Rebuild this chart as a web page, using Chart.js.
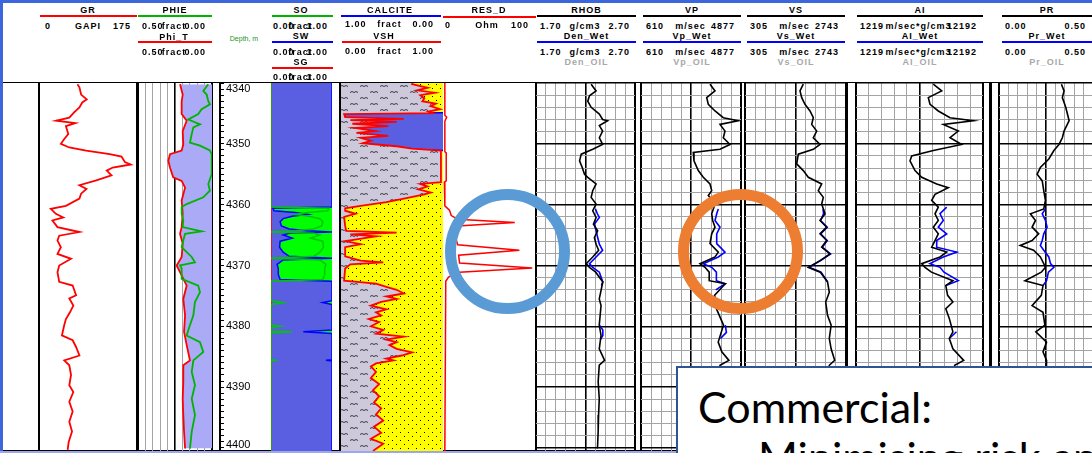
<!DOCTYPE html>
<html>
<head>
<meta charset="utf-8">
<script src="https://cdn.jsdelivr.net/npm/chart.js@4.4.1/dist/chart.umd.min.js"></script>
<style>
  html, body { margin: 0; padding: 0; background: #fff; }
  #page { position: relative; width: 1092px; height: 453px; overflow: hidden; background: #fff;
          font-family: "Liberation Sans", Arial, sans-serif; }
  #page canvas { position: absolute; display: block; }
  .h { position: absolute; font-weight: bold; font-size: 9px; letter-spacing: 1px; line-height: 10px;
       white-space: nowrap; color: #000; }
  .rule { position: absolute; height: 2px; }
  .line { position: absolute; background: #000; }
  .ring { position: absolute; box-sizing: border-box; border-radius: 50%; border-style: solid; border-width: 11px; }
  #note { position: absolute; left: 676px; top: 366px; width: 440px; height: 120px; box-sizing: border-box;
          background: #fff; border: 2px solid #2f5496; font-family: Lato, "Open Sans", sans-serif; color: #000; }
  #note div { position: absolute; white-space: nowrap; line-height: 1; font-size: 43px; }
</style>
</head>
<body>
<div id="page"></div>
<script>
// ---- depth window of the log display (metres) ----
const DEPTH_TOP = 4340;
const DEPTH_BASE = 4400.5;
const depthLabels = [4340, 4350, 4360, 4370, 4380, 4390, 4400];

// ---- curves: [depth m, value] ----
const grLog = [[4340.2,68.6],[4340.7,72.2],[4341.9,75.2],[4342.7,85.2],[4343.2,77.2],[4344.0,72.2],[4344.8,63.1],
  [4345.7,54.1],[4346.2,30.7],[4346.6,64.9],[4347.1,48.1],[4348.4,52.3],[4349.2,45.1],[4350.0,39.1],[4350.6,54.1],
  [4351.1,84.2],[4351.7,126.3],[4352.1,147.3],[4353.0,153.4],[4353.4,163.6],[4353.9,131.7],[4354.4,121.0],
  [4355.2,129.4],[4356.0,102.3],[4356.8,72.2],[4357.4,84.8],[4358.2,75.2],[4359.0,72.2],[4360.2,48.1],[4360.7,21.1],
  [4361.5,30.1],[4362.1,43.3],[4362.6,24.0],[4363.7,33.0],[4364.5,72.2],[4365.1,36.1],[4365.9,33.0],[4367.0,39.1],
  [4368.1,33.0],[4368.9,57.2],[4370.0,36.1],[4371.1,33.0],[4372.7,36.1],[4373.3,60.1],[4374.9,66.2],[4375.4,54.1],
  [4376.6,61.3],[4377.7,55.3],[4378.8,48.1],[4379.8,45.1],[4381.5,40.9],[4382.3,60.1],[4383.4,66.2],[4384.8,72.2],
  [4385.6,45.1],[4386.4,54.1],[4388.0,57.2],[4389.7,54.1],[4390.8,61.3],[4392.4,54.1],[4394.0,60.1],[4395.7,54.1],
  [4397.3,59.0],[4399.0,53.0],[4400.3,51.2]];

const phiTLog = [[4340.2,0.216],[4341.9,0.198],[4343.0,0.205],[4345.1,0.205],[4346.2,0.171],[4347.9,0.198],
  [4350.1,0.194],[4351.1,0.205],[4351.7,0.284],[4352.8,0.295],[4353.9,0.284],[4355.5,0.262],[4356.1,0.205],
  [4357.2,0.182],[4358.3,0.194],[4359.3,0.205],[4361.5,0.198],[4363.7,0.205],[4364.8,0.216],[4366.4,0.198],
  [4368.6,0.205],[4370.0,0.239],[4371.1,0.216],[4373.3,0.171],[4375.5,0.194],[4378.2,0.182],[4380.9,0.189],
  [4383.1,0.171],[4385.6,0.149],[4386.4,0.194],[4389.1,0.194],[4391.9,0.198],[4394.6,0.194],[4397.3,0.189],
  [4400.1,0.182]];

const phieLog = [[4340.2,0.025],[4341.3,0.059],[4341.9,0.036],[4343.0,0.025],[4343.5,0.014],[4344.3,0.070],
  [4345.1,0.093],[4346.0,0.160],[4346.8,0.081],[4347.3,0.126],[4348.4,0.137],[4349.8,0.149],[4350.3,0.081],
  [4351.1,0.014],[4351.7,0.002],[4355.0,0.002],[4356.6,0.025],[4357.7,0.014],[4358.8,0.059],[4359.9,0.171],
  [4360.4,0.205],[4361.5,0.205],[4362.6,0.194],[4363.7,0.198],[4364.4,0.070],[4364.8,0.182],[4365.9,0.194],
  [4367.0,0.205],[4368.6,0.137],[4369.5,0.115],[4370.0,0.216],[4370.5,0.205],[4372.2,0.205],[4373.3,0.093],
  [4374.4,0.081],[4376.0,0.115],[4378.2,0.126],[4379.8,0.149],[4381.5,0.171],[4382.6,0.081],[4384.2,0.059],
  [4385.6,0.126],[4387.5,0.137],[4389.7,0.115],[4391.9,0.137],[4394.6,0.115],[4397.3,0.137],[4400.1,0.149]];

const swLog = [[4339.5,1],[4360.4,1],[4360.6,0.03],[4361.0,0.05],[4361.3,0.4],[4361.6,0.6],[4361.9,0.35],
  [4362.3,0.2],[4362.8,0.15],[4363.5,0.17],[4364.0,0.3],[4364.3,0.6],[4364.5,1],[4364.7,0.3],[4365.0,0.2],
  [4365.5,0.35],[4366.0,0.15],[4367.0,0.14],[4367.8,0.2],[4368.5,0.3],[4368.8,1],[4369.1,0.2],[4369.8,0.1],
  [4370.5,0.12],[4371.5,0.12],[4372.3,0.15],[4372.6,1],[4375.8,1],[4376.1,0.85],[4376.4,1],[4380.6,1],
  [4380.9,0.53],[4381.2,1],[4385.5,1],[4385.6,0.9],[4385.7,1],[4400.5,1]];

const soLog = [[4339.5,0],[4360.4,0],[4360.6,0.95],[4361.0,0.93],[4361.3,0.6],[4361.6,0.4],[4361.9,0.62],
  [4362.3,0.8],[4362.8,0.85],[4363.5,0.83],[4364.0,0.7],[4364.3,0.4],[4364.5,0],[4364.7,0.7],[4365.0,0.8],
  [4365.5,0.65],[4366.0,0.85],[4367.0,0.86],[4367.8,0.8],[4368.5,0.7],[4368.8,0],[4369.1,0.8],[4369.8,0.9],
  [4370.5,0.88],[4371.5,0.88],[4372.3,0.85],[4372.6,0],[4375.8,0],[4376.1,0.2],[4376.4,0],[4379.8,0],
  [4380.0,0.15],[4380.2,0],[4380.8,0],[4380.9,0.34],[4381.1,0],[4385.5,0],[4385.6,0.1],[4385.7,0],[4400.5,0]];

const sgLog = [[4339.5,0],[4400.5,0]];

const vshLog = [[4339.5,0.72],[4340.2,0.70],[4340.8,0.85],[4341.2,0.75],[4341.6,0.92],[4342.0,0.78],[4342.5,0.82],
  [4343.0,0.80],[4343.4,0.93],[4343.8,0.88],[4344.3,0.97],[4344.7,0.86],[4344.95,0.9],[4345.1,0.04],[4345.6,0.05],
  [4345.9,0.62],[4346.1,0.1],[4346.4,0.55],[4346.7,0.12],[4347.1,0.47],[4347.4,0.15],[4347.9,0.34],[4348.2,0.16],
  [4348.7,0.47],[4349.0,0.2],[4349.5,0.3],[4349.9,0.22],[4350.4,0.55],[4350.8,0.7],[4351.1,0.98],[4356.3,0.98],
  [4356.6,0.78],[4357.0,0.85],[4357.5,0.76],[4358.0,0.88],[4358.3,0.82],[4359.0,0.62],[4359.6,0.45],[4360.2,0.2],
  [4360.6,0.05],[4361.0,0.05],[4361.5,0.15],[4362.0,0.04],[4363.5,0.05],[4364.3,0.06],[4364.6,0.55],[4364.9,0.1],
  [4365.2,0.35],[4366.0,0.05],[4366.5,0.2],[4367.0,0.05],[4368.5,0.05],[4369.2,0.2],[4369.5,0.42],[4369.8,0.1],
  [4370.5,0.05],[4372.5,0.04],[4373.0,0.35],[4373.5,0.45],[4374.0,0.55],[4374.6,0.62],[4375.1,0.45],[4375.5,0.55],
  [4376.0,0.4],[4376.6,0.3],[4377.2,0.45],[4377.7,0.35],[4378.2,0.4],[4378.8,0.28],[4379.3,0.38],[4380.0,0.3],
  [4380.6,0.42],[4381.2,0.35],[4381.7,0.62],[4382.2,0.45],[4382.6,0.55],[4383.1,0.48],[4383.7,0.55],[4384.3,0.7],
  [4384.8,0.6],[4385.3,0.45],[4385.6,0.52],[4386.1,0.35],[4386.6,0.3],[4387.5,0.35],[4388.5,0.3],[4389.5,0.38],
  [4390.5,0.32],[4391.5,0.38],[4392.5,0.33],[4393.5,0.4],[4394.5,0.35],[4395.5,0.42],[4396.5,0.33],[4397.5,0.4],
  [4398.5,0.3],[4399.3,0.42],[4400.5,0.32]];

const calciteLog = [[4344.9,0],[4345.0,0.96],[4346.2,0.94],[4346.6,0.88],[4347.0,0.85],[4348.5,0.83],
  [4350.0,0.79],[4350.5,0.7],[4350.8,0.45],[4351.1,0]];

const resLog = [[4339.5,2],[4345.3,2],[4345.6,4],[4346.3,2],[4351.3,2],[4351.5,3.5],[4356.1,3.5],[4356.3,1.5],
  [4360.2,2],[4360.9,7],[4361.8,9],[4362.4,16],[4362.95,78],[4363.5,16],[4364.6,12],[4366.6,16],[4367.5,83],
  [4368.3,17],[4369.6,18],[4370.4,97],[4371.1,18],[4371.9,6],[4372.6,3],[4400.5,2]];

const rhobLog = [[4340.2,2.257],[4341.3,2.307],[4342.1,2.24],[4343.0,2.223],[4344.0,2.257],[4345.1,2.34],
  [4346.0,2.373],[4346.2,2.423],[4347.0,2.34],[4347.9,2.373],[4349.0,2.34],[4350.1,2.373],[4350.9,2.273],
  [4351.7,2.157],[4352.8,2.14],[4353.9,2.167],[4355.0,2.19],[4355.5,2.223],[4356.6,2.307],[4357.7,2.273],
  [4358.8,2.257],[4359.9,2.307],[4361.0,2.273],[4362.1,2.307],[4363.2,2.28],[4364.3,2.323],[4365.4,2.29],
  [4366.5,2.307],[4367.5,2.333],[4368.6,2.273],[4369.7,2.207],[4370.3,2.24],[4371.1,2.303],[4372.7,2.375],
  [4375.5,2.339],[4376.6,2.357],[4379.8,2.339],[4381.5,2.357],[4383.7,2.339],[4385.6,2.393],[4386.4,2.339],
  [4389.1,2.328],[4391.9,2.339],[4394.6,2.332],[4397.3,2.328],[4400.1,2.321]];
const denWetLog = [[4360.7,2.30],[4361.5,2.32],[4362.1,2.34],[4363.2,2.29],[4364.3,2.307],[4365.4,2.323],
  [4366.5,2.34],[4367.5,2.373],[4368.6,2.307],[4369.7,2.24],[4370.3,2.273],[4371.1,2.34],[4372.7,2.375],
  [4373.3,2.36],[4375.0,null],[4379.8,2.339],[4380.6,2.375],[4381.5,2.375],[4382.2,2.35]];

const vpLog = [[4340.2,3554],[4341.3,3768],[4342.4,3413],[4343.5,3482],[4344.6,3768],[4345.7,4122],[4346.2,4762],
  [4346.8,3981],[4347.9,4194],[4349.0,4122],[4350.1,4408],[4350.9,3981],[4351.4,2842],[4352.8,2871],[4354.4,3055],
  [4355.5,3268],[4356.6,3554],[4357.7,3627],[4358.5,3482],[4359.9,3768],[4361.5,3627],[4362.6,3669],[4363.7,3768],
  [4364.8,3627],[4366.4,3554],[4367.8,3908],[4368.6,3768],[4369.7,3127],[4370.3,3341],[4371.1,3520],[4372.5,3520],
  [4373.0,4207],[4374.9,3751],[4377.1,3827],[4379.8,4130],[4382.6,3904],[4384.2,4058],[4385.6,4361],[4386.4,3981],
  [4388.0,3950]];
const vpWetLog = [[4360.7,3908],[4361.5,3840],[4362.6,3768],[4363.7,3981],[4364.8,3840],[4366.4,3840],
  [4367.8,4194],[4368.6,3908],[4369.7,3268],[4370.3,3627],[4371.1,3827],[4372.5,3827],[4373.0,4207],[4374.0,3800],
  [4376.0,null],[4379.8,4207],[4381.0,4254],[4382.0,4000]];

const vsLog = [[4340.2,1712],[4341.3,1633],[4342.4,1674],[4343.5,1753],[4344.6,1874],[4345.7,1954],[4346.8,1915],
  [4347.9,2036],[4349.0,1954],[4350.1,2116],[4350.9,1954],[4351.7,1592],[4353.3,1553],[4354.4,1712],[4355.5,1833],
  [4356.6,2156],[4357.7,2074],[4358.8,2195],[4359.9,2156],[4361.5,2236],[4362.6,2116],[4363.7,2277],[4364.8,2116],
  [4365.9,2277],[4367.0,2156],[4368.1,2357],[4369.2,2116],[4370.3,1833],[4371.1,2123],[4372.7,2297],[4374.4,2340],
  [4376.0,2253],[4378.2,2297],[4379.8,2384],[4382.0,2340],[4383.7,2384],[4385.6,2470],[4386.4,2340],[4388.0,2340]];
const vsWetLog = [[4360.7,2190],[4361.5,2200],[4362.6,2130],[4363.7,2290],[4364.8,2130],[4365.9,2290],
  [4367.0,2170],[4368.1,2370],[4369.2,2130],[4370.3,1850],[4371.1,2140],[4372.7,2300]];

const aiLog = [[4340.2,7898],[4341.3,8623],[4342.4,7466],[4343.5,7613],[4344.6,8330],[4345.7,9341],[4346.2,11354],
  [4346.8,8762],[4347.9,10058],[4349.0,9341],[4350.1,10351],[4351.1,7898],[4352.0,6031],[4352.8,5885],[4354.4,6317],
  [4355.5,6895],[4356.6,8191],[4357.2,9194],[4358.3,8044],[4359.3,7759],[4360.4,8330],[4361.5,8044],[4362.6,8330],
  [4363.7,7898],[4364.8,8330],[4365.9,8044],[4367.0,7759],[4367.8,9055],[4368.6,8477],[4369.7,6895],[4370.3,7180],
  [4371.1,7734],[4372.5,9591],[4373.3,8978],[4374.9,9134],[4376.0,9591],[4377.1,8978],[4378.7,9280],[4380.9,9591],
  [4382.0,9280],[4383.7,9591],[4385.6,10524],[4386.4,9747],[4388.0,9600]];
const aiWetLog = [[4360.4,9055],[4361.5,8477],[4362.6,8762],[4363.7,8330],[4364.8,9055],[4365.9,8191],
  [4367.0,8191],[4367.8,9919],[4368.6,8762],[4369.7,7613],[4370.3,8477],[4371.1,8822],[4372.5,10058],[4373.3,8978],
  [4376.0,null],[4380.9,9902],[4382.0,9280]];

const prLog = [[4340.2,0.332],[4341.3,0.346],[4342.4,0.337],[4344.0,0.355],[4345.1,0.364],[4346.2,0.373],
  [4347.9,0.346],[4349.0,0.337],[4350.1,0.319],[4351.1,0.292],[4352.5,0.265],[4353.9,0.220],[4355.0,0.203],
  [4356.1,0.230],[4357.7,0.238],[4359.3,0.247],[4360.7,0.238],[4361.5,0.167],[4362.6,0.194],[4363.7,0.176],
  [4364.8,0.211],[4365.9,0.176],[4366.7,0.113],[4367.5,0.184],[4368.6,0.220],[4369.7,0.238],[4370.3,0.247],
  [4371.1,0.225],[4372.5,0.138],[4373.3,0.234],[4374.9,0.225],[4376.6,0.176],[4377.7,0.234],[4379.8,0.244],
  [4380.9,0.196],[4382.6,0.253],[4384.2,0.234],[4385.6,0.253],[4386.4,0.253],[4388.0,0.25]];
const prWetLog = [[4360.7,0.247],[4361.5,0.230],[4362.6,0.247],[4363.7,0.256],[4364.8,0.238],[4365.9,0.230],
  [4366.7,0.220],[4367.5,0.238],[4368.6,0.265],[4369.7,0.274],[4370.3,0.292],[4371.1,0.263],[4372.5,0.253],
  [4373.3,0.234]];

// ---- helpers ----
const page = document.getElementById('page');
const pts = log => log.map(([d, v]) => ({x: v, y: d}));
const RED = '#ff0000', GREEN = '#00b400', BLUE = '#0000ff', WATER = '#5a5fe2', OIL = '#00ff00';

function box(cls, css, text) {
  const el = document.createElement('div');
  el.className = cls;
  el.style.cssText = css;
  if (text !== undefined) el.textContent = text;
  page.appendChild(el);
  return el;
}

function shalePattern() {
  const c = document.createElement('canvas');
  c.width = 20; c.height = 12;
  const g = c.getContext('2d');
  g.fillStyle = '#cdc9da'; g.fillRect(0, 0, 20, 12);
  g.strokeStyle = '#3a3a48'; g.lineWidth = 1;
  const wave = (x, y) => {
    g.beginPath(); g.moveTo(x, y + 1); g.lineTo(x + 2, y); g.lineTo(x + 4, y + 1); g.lineTo(x + 6, y); g.lineTo(x + 8, y + 1);
    g.stroke();
  };
  wave(1, 2.5); wave(11, 8.5);
  return g.createPattern(c, 'repeat');
}
function sandPattern() {
  const c = document.createElement('canvas');
  c.width = 8; c.height = 8;
  const g = c.getContext('2d');
  g.fillStyle = '#ffff00'; g.fillRect(0, 0, 8, 8);
  g.fillStyle = '#000'; g.fillRect(1, 1, 1, 1); g.fillRect(5, 5, 1, 1);
  return g.createPattern(c, 'repeat');
}

// depth grid lines every 2 m, heavy every 10 m
const gridDepths = Array.from({length: 31}, (_, i) => DEPTH_TOP + 2 * i);

function depthAxis(showGrid) {
  return {
    type: 'linear', reverse: true, min: DEPTH_TOP, max: DEPTH_BASE, display: showGrid,
    afterBuildTicks: s => { s.ticks = gridDepths.map(v => ({value: v})); },
    ticks: {display: false}, border: {display: false},
    grid: {drawTicks: false,
      color: c => (c.tick && c.tick.value % 10 === 0) ? '#000' : '#a4a4a4',
      lineWidth: c => (c.tick && c.tick.value % 10 === 0) ? 1.6 : 1}
  };
}

// value axis; divisions: 1 = edges only, n = n equal divisions with heavy centre and edges
function valueAxis(min, max, reverse, divisions, show) {
  const n = divisions || 1;
  return {
    type: 'linear', min, max, reverse: !!reverse, display: show !== false,
    afterBuildTicks: s => { s.ticks = Array.from({length: n + 1}, (_, i) => ({value: min + (max - min) * i / n})); },
    ticks: {display: false}, border: {display: false},
    grid: {drawTicks: false,
      color: c => (c.index === 0 || c.index === n || c.index * 2 === n) ? '#000' : '#a4a4a4',
      lineWidth: c => (c.index === 0 || c.index === n) ? 2 : (c.index * 2 === n ? 1.6 : 1)}
  };
}

function track(x0, x1, datasets, scales) {
  const c = document.createElement('canvas');
  c.width = x1 - x0 + 2; c.height = 368;
  c.style.left = (x0 - 1) + 'px'; c.style.top = '83px';
  page.appendChild(c);
  return new Chart(c, {
    type: 'line',
    data: {datasets},
    options: {
      indexAxis: 'y', responsive: false, animation: false, events: [],
      layout: {padding: {left: 1, right: 1, top: 0, bottom: 0}},
      plugins: {legend: {display: false}, tooltip: {enabled: false}},
      elements: {point: {radius: 0}, line: {tension: 0, borderWidth: 1.6}},
      scales
    }
  });
}

function curve(log, color, extra) {
  return Object.assign({data: pts(log), borderColor: color, backgroundColor: color, fill: false, spanGaps: false}, extra || {});
}

// ---- frame ----
box('line', 'left:0;top:0;width:1092px;height:3px;background:#3c66dc;');
box('line', 'left:0;top:0;width:3px;height:453px;background:#3c66dc;');
box('line', 'left:0;top:451px;width:1092px;height:2px;background:#9fa6ee;');
box('line', 'left:3px;top:82px;width:1089px;height:1px;');
box('line', 'left:3px;top:450px;width:1089px;height:1px;');

// ---- tracks ----
track(39, 137, [curve(grLog, RED, {borderWidth: 1.8})], {x: valueAxis(0, 175, false, 1), y: depthAxis(false)});

track(138, 212, [
  curve(phieLog, GREEN, {order: 1, borderWidth: 1.8}),
  curve(phiTLog, RED, {order: 2, borderWidth: 1.8, fill: {value: 0}, backgroundColor: '#aaaaf6'})
], {x: valueAxis(0, 0.5, true, 10), y: depthAxis(false)});

// depth scale: axis line with a tick every metre, labelled every 10 m
(function () {
  const c = document.createElement('canvas');
  c.width = 58; c.height = 368;
  c.style.left = '212px'; c.style.top = '83px';
  page.appendChild(c);
  const first = depthLabels[0], last = depthLabels[depthLabels.length - 1];
  new Chart(c, {
    type: 'line', data: {datasets: []},
    options: {
      responsive: false, animation: false, events: [],
      layout: {padding: 0},
      plugins: {legend: {display: false}, tooltip: {enabled: false}},
      scales: {
        x: {type: 'linear', display: false, min: 0, max: 1},
        y: {type: 'linear', position: 'right', reverse: true, min: DEPTH_TOP, max: DEPTH_BASE,
          afterBuildTicks: s => { s.ticks = Array.from({length: 61}, (_, i) => ({value: DEPTH_TOP + i})); },
          afterFit: s => { s.width = 50; s.paddingTop = 0; s.paddingBottom = 0; },
          border: {display: true, color: '#000', width: 2},
          grid: {drawOnChartArea: false, drawTicks: true, tickLength: 4, color: '#000', lineWidth: 1},
          ticks: {autoSkip: false, padding: 2, color: '#000',
            font: c => ({family: '"Liberation Sans", Arial, sans-serif', size: 11,
              lineHeight: c.tick && c.tick.value === first ? 1.0 : (c.tick && c.tick.value === last ? 0.6 : 1.2)}),
            callback: v => {
              if (!depthLabels.includes(v)) return '';
              if (v === first) return ['', String(v)];
              if (v === last) return [String(v), ''];
              return String(v);
            }}
        }
      }
    }
  });
})();

track(271, 332, [
  curve(soLog, '#00c800', {order: 1, borderWidth: 1.5}),
  curve(sgLog, RED, {order: 2, borderWidth: 1.5}),
  curve(swLog, BLUE, {order: 3, borderWidth: 1.5, fill: {value: 0}, backgroundColor: WATER}),
  {data: pts(swLog), borderWidth: 0, borderColor: 'rgba(0,0,0,0)', backgroundColor: OIL, fill: {value: 1}, order: 4}
], {x: valueAxis(0, 1, false, 1, false), y: depthAxis(false)});

track(340, 443, [
  curve(vshLog, RED, {order: 1, borderWidth: 1.8, fill: {value: 0}, backgroundColor: shalePattern(), xAxisID: 'x'}),
  curve(calciteLog, BLUE, {order: 2, borderWidth: 1.5, fill: {value: 0}, backgroundColor: WATER, xAxisID: 'xc'}),
  {data: pts(vshLog), borderWidth: 0, borderColor: 'rgba(0,0,0,0)', backgroundColor: sandPattern(), fill: {value: 1}, order: 3, xAxisID: 'x'}
], {x: valueAxis(0, 1, false, 1, false), xc: valueAxis(0, 1, true, 1, false), y: depthAxis(false)});

track(443, 535, [curve(resLog, RED, {borderWidth: 1.5})], {x: valueAxis(0, 100, false, 1, false), y: depthAxis(false)});

track(536, 635, [curve(rhobLog, '#000', {order: 1}), curve(denWetLog, BLUE, {order: 2})],
  {x: valueAxis(1.7, 2.7, false, 10), y: depthAxis(true)});
track(641, 741, [curve(vpLog, '#000', {order: 1}), curve(vpWetLog, BLUE, {order: 2})],
  {x: valueAxis(610, 4877, false, 10), y: depthAxis(true)});
track(745, 846, [curve(vsLog, '#000', {order: 1}), curve(vsWetLog, BLUE, {order: 2})],
  {x: valueAxis(305, 2743, false, 10), y: depthAxis(true)});
track(856, 983, [curve(aiLog, '#000', {order: 1}), curve(aiWetLog, BLUE, {order: 2})],
  {x: valueAxis(1219, 12192, false, 10), y: depthAxis(true)});
track(999, 1093, [curve(prLog, '#000', {order: 1}), curve(prWetLog, BLUE, {order: 2})],
  {x: valueAxis(0, 0.5, false, 10), y: depthAxis(true)});

// track separators
box('line', 'left:339px;top:83px;width:2px;height:368px;');
box('line', 'left:845px;top:83px;width:3px;height:368px;');
box('line', 'left:989px;top:83px;width:3px;height:368px;');

// ---- header ----
function hText(t, x, y, align, color, css) {
  const shift = align === 'left' ? '0' : (align === 'right' ? '-100%' : '-50%');
  return box('h', `left:${x}px;top:${y - 5}px;transform:translateX(${shift});color:${color || '#000'};${css || ''}`, t);
}
function rule(x0, x1, y, color) { box('rule', `left:${x0}px;width:${x1 - x0}px;top:${y}px;background:${color};`); }
function scaleRow(x0, x1, y, lo, unit, hi) {
  hText(lo, x0, y, 'left'); hText(hi, x1, y, 'right');
  if (unit) hText(unit, (x0 + x1) / 2, y);
}

hText('GR', 88, 10); rule(40, 137, 15, RED); scaleRow(45, 131, 26, '0', 'GAPI', '175');
hText('PHIE', 175, 10); rule(138, 212, 15, GREEN); scaleRow(142, 206, 26, '0.50', 'fract', '0.00');
hText('Phi_T', 174, 37); rule(138, 212, 41, RED); scaleRow(142, 206, 52, '0.50', 'fract', '0.00');
hText('Depth, m', 244, 39, 'center', '#1a961a', 'font-size:7px;letter-spacing:0;font-weight:normal;');

hText('SO', 301, 10); rule(272, 333, 15, GREEN); scaleRow(273, 328, 26, '0.00', 'fract', '1.00');
hText('SW', 301, 36); rule(272, 333, 41, BLUE); scaleRow(273, 328, 52, '0.00', 'fract', '1.00');
hText('SG', 301, 62); rule(272, 333, 67, RED); scaleRow(273, 328, 77, '0.00', 'fract', '1.00');

hText('CALCITE', 390, 10); rule(341, 441, 15, BLUE); scaleRow(345, 434, 24, '1.00', 'fract', '0.00');
hText('VSH', 384, 36); rule(342, 441, 41, RED); scaleRow(345, 434, 51, '0.00', 'fract', '1.00');

hText('RES_D', 489, 10); rule(443, 536, 16, RED); scaleRow(445, 529, 25, '0', 'Ohm', '100');

const wetOil = [
  ['RHOB', 537, 636, '1.70', 'g/cm3', '2.70', 'Den_Wet', 'Den_OIL'],
  ['VP', 643, 741, '610', 'm/sec', '4877', 'Vp_Wet', 'Vp_OIL'],
  ['VS', 747, 845, '305', 'm/sec', '2743', 'Vs_Wet', 'Vs_OIL'],
  ['AI', 857, 983, '1219', 'm/sec*g/cm3', '12192', 'AI_Wet', 'AI_OIL'],
  ['PR', 1002, 1092, '0.00', '', '0.50', 'Pr_Wet', 'Pr_OIL']
];
wetOil.forEach(([name, a, b, lo, unit, hi, wet, oil]) => {
  const mid = (a + b) / 2;
  hText(name, mid, 10); rule(a, b, 15, '#000'); scaleRow(a + 3, b - 6, 26, lo, unit, hi);
  hText(wet, mid, 36); rule(a, b, 41, BLUE); scaleRow(a + 3, b - 6, 52, lo, unit, hi);
  hText(oil, mid, 62, 'center', '#a8a8a8');
});

// ---- annotations ----
box('ring', 'left:445px;top:189px;width:125px;height:125px;border-color:#5b9bd5;');
box('ring', 'left:678px;top:189px;width:125px;height:125px;border-color:#ed7d31;');
const note = box('', '', undefined);
note.id = 'note';
const l1 = document.createElement('div'); l1.textContent = 'Commercial:'; l1.style.cssText = 'left:20px;top:17px;';
const l2 = document.createElement('div'); l2.textContent = 'Minimising risk and'; l2.style.cssText = 'left:80px;top:67px;';
note.appendChild(l1); note.appendChild(l2);
</script>
</body>
</html>
